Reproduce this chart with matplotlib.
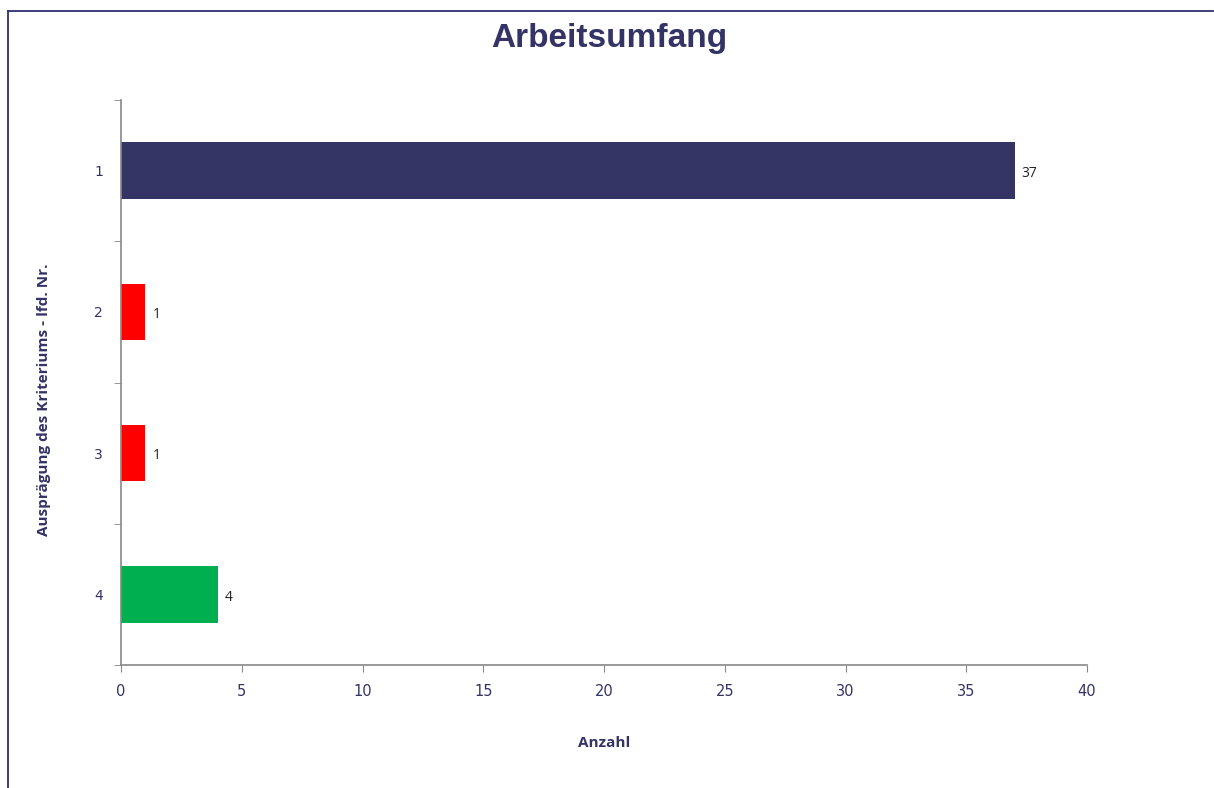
import matplotlib
matplotlib.use("Agg")
import matplotlib.pyplot as plt
from matplotlib.lines import Line2D

categories = ["1", "2", "3", "4"]
counts = [37, 1, 1, 4]
bar_colors = ["#343465", "#ff0000", "#ff0000", "#00b050"]

navy = "#333366"
axis_grey = "#888888"

fig = plt.figure(figsize=(12.14, 7.88), dpi=100)
ax = fig.add_axes([121 / 1214, 1 - 665 / 788, (1087 - 121) / 1214, (665 - 100) / 788])

ypos = list(range(len(categories)))
bars = ax.barh(ypos, counts, height=0.4, color=bar_colors)
ax.set_ylim(len(categories) - 0.5, -0.5)
ax.set_xlim(0, 40)

# category labels sit between the tick marks
ax.set_yticks(ypos)
ax.set_yticklabels(categories)
ax.set_yticks([y - 0.5 for y in ypos] + [len(categories) - 0.5], minor=True)
ax.tick_params(axis="y", which="major", length=0, pad=13, labelsize=10, labelcolor=navy)
ax.tick_params(axis="y", which="minor", length=5, color=axis_grey, direction="out")
ax.set_xticks(range(0, 41, 5))
ax.tick_params(axis="x", length=5, color=axis_grey, labelsize=10.5, labelcolor=navy, pad=9)

for side in ["top", "right"]:
    ax.spines[side].set_visible(False)
for side in ["left", "bottom"]:
    ax.spines[side].set_color(axis_grey)
    ax.spines[side].set_linewidth(1.2)

for b, v in zip(bars, counts):
    ax.text(b.get_width() + 0.3, b.get_y() + b.get_height() / 2 + 0.02, str(v),
            va="center", ha="left", fontsize=10, color="#222222",
            family=["Open Sans", "DejaVu Sans"])

ax.set_xlabel("Anzahl", fontsize=11, fontweight="bold", color=navy,
              family=["Open Sans", "DejaVu Sans"], labelpad=26)
ax.set_ylabel("Ausprägung des Kriteriums - lfd. Nr.", fontsize=11, fontweight="bold",
              color=navy, family=["Open Sans", "DejaVu Sans"])
ax.yaxis.set_label_coords(-0.072, 0.47)

fig.text(609 / 1214, 1 - 38 / 788, "Arbeitsumfang", ha="center", va="center",
         fontsize=24, fontweight="bold", color=navy, family=["Liberation Sans", "DejaVu Sans"])

# outer frame, only the top and left edges show
fig.add_artist(Line2D([8 / 1214, 8 / 1214], [0, 1 - 11 / 788], transform=fig.transFigure,
                      color="#2e2e6e", linewidth=1.3))
fig.add_artist(Line2D([8 / 1214, 1213 / 1214], [1 - 11 / 788, 1 - 11 / 788], transform=fig.transFigure,
                      color="#2e2e6e", linewidth=1.3))

fig.savefig("out.png", dpi=100)
